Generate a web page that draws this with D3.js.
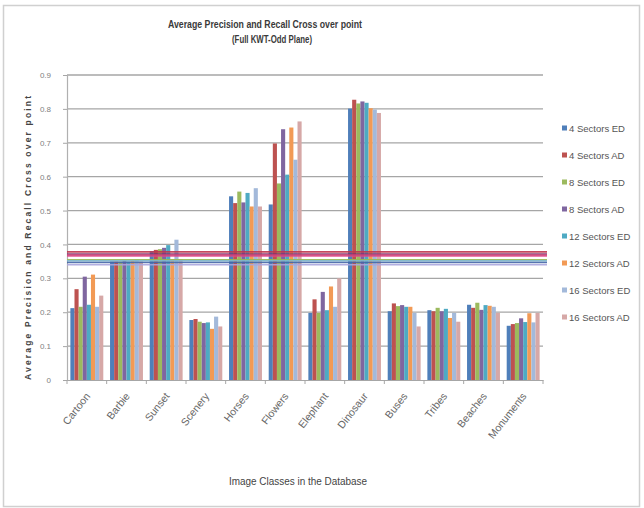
<!DOCTYPE html>
<html>
<head>
<meta charset="utf-8">
<script src="https://cdn.jsdelivr.net/npm/d3@7"></script>
<style>
  html, body { margin: 0; padding: 0; background: #ffffff; }
  svg { display: block; }
  text { font-family: "Liberation Sans", "DejaVu Sans", sans-serif; }
</style>
</head>
<body>
<svg id="chart" width="644" height="508"></svg>
<script>
// Image classes along the x axis
const categories = ["Cartoon", "Barbie", "Sunset", "Scenery", "Horses", "Flowers",
  "Elephant", "Dinosaur", "Buses", "Tribes", "Beaches", "Monuments"];

// One series per sector count / distance type
const seriesNames = ["4 Sectors ED", "4 Sectors AD", "8 Sectors ED", "8 Sectors AD",
  "12 Sectors ED", "12 Sectors AD", "16 Sectors ED", "16 Sectors AD"];

const sectors4ED  = [0.212, 0.350, 0.380, 0.177, 0.542, 0.518, 0.198, 0.801, 0.203, 0.206, 0.222, 0.160];
const sectors4AD  = [0.268, 0.350, 0.384, 0.180, 0.522, 0.698, 0.238, 0.827, 0.226, 0.203, 0.213, 0.165];
const sectors8ED  = [0.216, 0.350, 0.386, 0.172, 0.556, 0.580, 0.198, 0.816, 0.218, 0.213, 0.228, 0.168];
const sectors8AD  = [0.305, 0.352, 0.390, 0.168, 0.524, 0.740, 0.260, 0.822, 0.221, 0.203, 0.207, 0.182];
const sectors12ED = [0.222, 0.350, 0.398, 0.170, 0.552, 0.606, 0.206, 0.818, 0.216, 0.210, 0.221, 0.171];
const sectors12AD = [0.311, 0.352, 0.356, 0.151, 0.512, 0.745, 0.276, 0.802, 0.216, 0.183, 0.219, 0.197];
const sectors16ED = [0.216, 0.355, 0.414, 0.187, 0.566, 0.650, 0.216, 0.798, 0.198, 0.198, 0.216, 0.170];
const sectors16AD = [0.249, 0.350, 0.356, 0.158, 0.512, 0.763, 0.300, 0.788, 0.158, 0.172, 0.198, 0.198];

const seriesValues = [sectors4ED, sectors4AD, sectors8ED, sectors8AD,
  sectors12ED, sectors12AD, sectors16ED, sectors16AD];

// Overall average cross over point of each series, drawn as horizontal lines
const averageValues = [0.347, 0.378, 0.355, 0.372, 0.352, 0.366, 0.340, 0.369];

const seriesColors = ["#4f7fba", "#bd5250", "#9cba5e", "#7f66a0", "#4eaac3", "#f29a55", "#a3b9da", "#d6a8a7"];
const lineColors   = ["#4566a8", "#c0364e", "#98b954", "#7a2f6a", "#7fb6cf", "#e0488a", "#aaa6de", "#d0407a"];

const yTicks = [0, 0.1, 0.2, 0.3, 0.4, 0.5, 0.6, 0.7, 0.8, 0.9];

const svg = d3.select("#chart");

// Chart frame
svg.append("rect")
  .attr("x", 3.5).attr("y", 5.5).attr("width", 636).attr("height", 501)
  .attr("fill", "#ffffff").attr("stroke", "#d0d0d0").attr("stroke-width", 1.5);

const plot = { left: 67, right: 543, top: 75, bottom: 380 };

const y = d3.scaleLinear().domain([0, 0.9]).range([plot.bottom, plot.top]);
const x0 = d3.scaleBand().domain(categories).range([plot.left, plot.right])
  .paddingInner(0.17).paddingOuter(0.085);
const x1 = d3.scaleBand().domain(d3.range(seriesNames.length)).range([0, x0.bandwidth()]);

// Horizontal gridlines
svg.append("g")
  .selectAll("line")
  .data(yTicks.filter(t => t > 0))
  .join("line")
  .attr("x1", plot.left).attr("x2", plot.right)
  .attr("y1", d => y(d)).attr("y2", d => y(d))
  .attr("stroke", "#a6a6a6").attr("stroke-width", 1.3);

// Y axis
const yAxis = svg.append("g")
  .attr("transform", `translate(${plot.left},0)`)
  .call(d3.axisLeft(y).tickValues(yTicks).tickSize(4).tickPadding(12)
    .tickFormat(d => d === 0 ? "0" : d3.format(".1f")(d)));
yAxis.select(".domain").attr("stroke", "#b0b0b0").attr("stroke-width", 1.2);
yAxis.selectAll(".tick line").attr("stroke", "#a6a6a6");
yAxis.selectAll(".tick text")
  .attr("fill", "#808080").attr("font-size", 8)
  .style("font-family", "\"Liberation Sans\", sans-serif");

// Bars
const groups = svg.append("g")
  .selectAll("g")
  .data(categories)
  .join("g")
  .attr("transform", d => `translate(${x0(d)},0)`);

groups.selectAll("rect")
  .data((c, ci) => seriesValues.map((vals, si) => ({ si, v: vals[ci] })))
  .join("rect")
  .attr("x", d => x1(d.si))
  .attr("width", x1.bandwidth())
  .attr("y", d => y(d.v))
  .attr("height", d => y(0) - y(d.v))
  .attr("fill", d => seriesColors[d.si]);

// Average lines
svg.append("g")
  .selectAll("line")
  .data(averageValues)
  .join("line")
  .attr("x1", plot.left).attr("x2", plot.right + 4)
  .attr("y1", d => y(d)).attr("y2", d => y(d))
  .attr("stroke", (d, i) => lineColors[i])
  .attr("stroke-width", 1.6)
  .attr("opacity", 0.9);

// X axis
const xAxis = svg.append("g")
  .attr("transform", `translate(0,${plot.bottom})`)
  .call(d3.axisBottom(x0).tickSize(0));
xAxis.select(".domain").attr("stroke", "#a6a6a6").attr("stroke-width", 1.2);
xAxis.selectAll(".tick text")
  .attr("fill", "#666666").attr("font-size", 10.5)
  .style("font-family", "\"Liberation Sans\", sans-serif")
  .attr("text-anchor", "end")
  .attr("x", 0).attr("y", 0).attr("dy", "0.35em")
  .attr("transform", "translate(1,14) rotate(-52)");

// Boundary tick marks between categories
const step = x0.step();
svg.append("g")
  .selectAll("line")
  .data(d3.range(categories.length + 1))
  .join("line")
  .attr("x1", i => plot.left + i * step).attr("x2", i => plot.left + i * step)
  .attr("y1", plot.bottom).attr("y2", plot.bottom + 4)
  .attr("stroke", "#a6a6a6");

// Titles
const title = svg.append("text")
  .attr("text-anchor", "middle")
  .attr("font-size", 10).attr("font-weight", "bold").attr("fill", "#3a3a3a");
title.append("tspan").attr("x", 265).attr("y", 28)
  .attr("textLength", 194).attr("lengthAdjust", "spacingAndGlyphs")
  .text("Average Precision and Recall Cross over point");
title.append("tspan").attr("x", 272).attr("y", 43)
  .attr("textLength", 80).attr("lengthAdjust", "spacingAndGlyphs")
  .text("(Full KWT-Odd Plane)");

svg.append("text")
  .attr("transform", "translate(31,238) rotate(-90)")
  .attr("text-anchor", "middle")
  .attr("font-size", 8.5).attr("font-weight", "bold").attr("fill", "#444444")
  .attr("textLength", 284).attr("lengthAdjust", "spacing")
  .text("Average Precision and Recall Cross over point");

svg.append("text")
  .attr("x", 298).attr("y", 485)
  .attr("text-anchor", "middle")
  .attr("font-size", 10).attr("fill", "#444444")
  .attr("textLength", 138).attr("lengthAdjust", "spacingAndGlyphs")
  .text("Image Classes in the Database");

// Legend
const legend = svg.append("g")
  .selectAll("g")
  .data(seriesNames)
  .join("g")
  .attr("transform", (d, i) => `translate(562,${129 + i * 27})`);
legend.append("rect")
  .attr("x", 0).attr("y", -3.5).attr("width", 5).attr("height", 5)
  .attr("fill", (d, i) => seriesColors[i]);
legend.append("text")
  .attr("x", 7).attr("y", 0).attr("dy", "0.35em")
  .attr("font-size", 9.5).attr("fill", "#555555")
  .text(d => d);
</script>
</body>
</html>
